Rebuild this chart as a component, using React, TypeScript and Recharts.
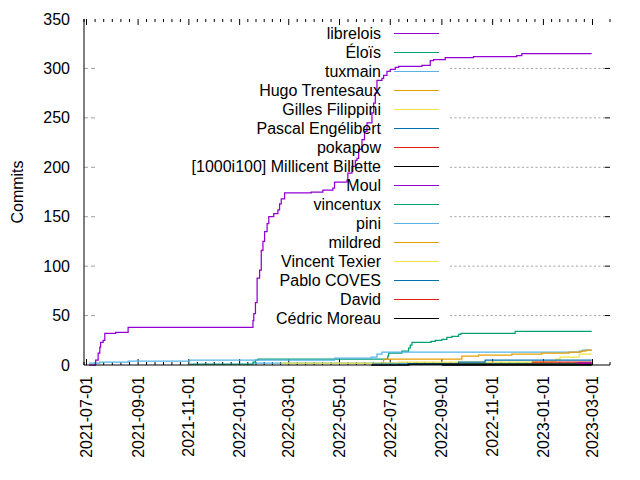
import React from 'react';
import { LineChart, Line, XAxis, YAxis, Legend, Label, CartesianGrid } from 'recharts';

const FONT = '"Liberation Sans", Arial, Helvetica, sans-serif';

// ---------- legend order / colours ----------
const authors = [
  'librelois', 'Éloïs', 'tuxmain', 'Hugo Trentesaux', 'Gilles Filippini', 'Pascal Engélibert',
  'pokapow', '[1000i100] Millicent Billette', 'Moul', 'vincentux', 'pini', 'mildred',
  'Vincent Texier', 'Pablo COVES', 'David', 'Cédric Moreau',
];
const palette = ['#9400d3', '#009e73', '#56b4e9', '#e69f00', '#f0e442', '#0072b2', '#e51e10', '#000000'];

// ---------- axis ticks ----------
const majorTickDates = [
  '2021-07-01', '2021-09-01', '2021-11-01', '2022-01-01', '2022-03-01', '2022-05-01',
  '2022-07-01', '2022-09-01', '2022-11-01', '2023-01-01', '2023-03-01',
];
const yTicks = [0, 50, 100, 150, 200, 250, 300, 350];
const xDomainDates = ['2021-06-28', '2023-03-22'];

// ---------- series (date of step, cumulative commits) ----------
const libreloisDates = [
  '2021-07-04', '2021-07-12', '2021-07-15', '2021-07-17', '2021-07-18', '2021-07-21', '2021-07-23',
  '2021-08-05', '2021-08-20', '2022-01-17', '2022-01-18', '2022-01-20', '2022-01-22', '2022-01-25',
  '2022-01-27', '2022-01-29', '2022-01-31', '2022-02-03', '2022-02-05', '2022-02-11', '2022-02-16',
  '2022-02-18', '2022-02-20', '2022-02-24', '2022-03-28', '2022-04-11', '2022-04-23', '2022-04-25',
  '2022-05-10', '2022-05-11', '2022-05-16', '2022-05-20', '2022-05-22', '2022-05-24', '2022-05-28',
  '2022-05-31', '2022-06-03', '2022-06-09', '2022-06-11', '2022-06-13', '2022-06-15', '2022-06-21',
  '2022-06-23', '2022-06-27', '2022-07-01', '2022-07-07', '2022-07-11', '2022-08-08', '2022-08-18',
  '2022-08-22', '2022-09-05', '2022-10-09', '2022-11-30', '2022-12-06', '2023-02-28',
];
const libreloisCommits = [
  0, 5, 12, 18, 23, 25, 32,
  33, 38, 45, 52, 63, 88, 96,
  116, 125, 135, 143, 150, 153, 157,
  163, 168, 174, 175, 177, 179, 185,
  187, 194, 201, 207, 209, 218, 228,
  236, 245, 255, 265, 275, 288, 290,
  293, 297, 299, 301, 302, 303, 308,
  309, 311, 312, 313, 315, 315,
];

const eloisDates = [
  '2021-11-02', '2022-01-17', '2022-01-20', '2022-01-23', '2022-06-28', '2022-06-29', '2022-07-15',
  '2022-07-23', '2022-07-25', '2022-07-27', '2022-08-19', '2022-08-24', '2022-09-01', '2022-09-07',
  '2022-09-13', '2022-09-21', '2022-09-24', '2022-11-28', '2023-02-28',
];
const eloisCommits = [1, 3, 5, 6, 9, 12, 14, 17, 20, 23, 24, 25, 26, 28, 29, 31, 32, 34, 34];

const tuxmainDates = [
  '2021-07-04', '2021-07-17', '2021-08-20', '2021-11-02', '2022-04-25', '2022-06-08', '2022-06-15',
  '2022-06-21', '2023-02-13', '2023-02-17', '2023-02-28',
];
const tuxmainCommits = [2, 3, 4, 5, 7, 8, 11, 13, 14, 15, 15];

const hugoDates = [
  '2022-06-21', '2022-06-23', '2022-09-25', '2022-10-15', '2022-11-24', '2022-12-30', '2023-02-01',
  '2023-02-15', '2023-02-21', '2023-02-28',
];
const hugoCommits = [2, 6, 9, 10, 11, 12, 13, 14, 15, 15];

const gillesDates = ['2022-02-20', '2022-07-11', '2023-01-11', '2023-01-16', '2023-01-21', '2023-02-13', '2023-02-28'];
const gillesCommits = [2, 3, 4, 6, 8, 11, 11];

const pascalDates = ['2022-06-09', '2022-09-21', '2022-10-23', '2023-02-28'];
const pascalCommits = [1, 3, 5, 5];

const pokapowDates = ['2022-12-18', '2023-02-28'];
const pokapowCommits = [3, 3];

const millicentDates = ['2022-06-08', '2022-07-23', '2023-02-28'];
const millicentCommits = [0, 1, 1];

const moulDates = ['2023-02-11', '2023-02-28'];
const moulCommits = [2, 2];

const vincentuxDates = ['2022-07-23', '2023-02-28'];
const vincentuxCommits = [1, 1];

const piniDates = ['2022-01-17', '2023-02-28'];
const piniCommits = [2, 2];

const mildredDates = ['2022-08-10', '2023-02-28'];
const mildredCommits = [1, 1];

const vincentTexierDates = ['2022-09-15', '2023-02-28'];
const vincentTexierCommits = [1, 1];

const pabloDates = ['2022-07-23', '2023-02-28'];
const pabloCommits = [1, 1];

const davidDates = ['2023-02-11', '2023-02-28'];
const davidCommits = [2, 2];

const cedricDates = ['2022-09-01', '2023-02-28'];
const cedricCommits = [0, 0];

// ---------- build tables ----------
const ts = (d: string) => Date.parse(d);
const zip = (dates: string[], vals: number[]) => dates.map((d, i) => ({ x: ts(d), y: vals[i] }));

const seriesByAuthor: Record<string, { x: number; y: number }[]> = {
  'librelois': zip(libreloisDates, libreloisCommits),
  'Éloïs': zip(eloisDates, eloisCommits),
  'tuxmain': zip(tuxmainDates, tuxmainCommits),
  'Hugo Trentesaux': zip(hugoDates, hugoCommits),
  'Gilles Filippini': zip(gillesDates, gillesCommits),
  'Pascal Engélibert': zip(pascalDates, pascalCommits),
  'pokapow': zip(pokapowDates, pokapowCommits),
  '[1000i100] Millicent Billette': zip(millicentDates, millicentCommits),
  'Moul': zip(moulDates, moulCommits),
  'vincentux': zip(vincentuxDates, vincentuxCommits),
  'pini': zip(piniDates, piniCommits),
  'mildred': zip(mildredDates, mildredCommits),
  'Vincent Texier': zip(vincentTexierDates, vincentTexierCommits),
  'Pablo COVES': zip(pabloDates, pabloCommits),
  'David': zip(davidDates, davidCommits),
  'Cédric Moreau': zip(cedricDates, cedricCommits),
};

// drawing order (bottom first)
const drawOrder = [
  'pini', 'vincentux', 'mildred', 'Vincent Texier', 'Pablo COVES', 'Éloïs', 'tuxmain',
  'Hugo Trentesaux', 'Gilles Filippini', 'Pascal Engélibert', '[1000i100] Millicent Billette',
  'Cédric Moreau', 'pokapow', 'David', 'Moul', 'librelois',
];
const colorOf = (name: string) => palette[authors.indexOf(name) % palette.length];

const majorTs = majorTickDates.map(ts);
const allXTicks: number[] = [];
majorTs.forEach((t, i) => {
  allXTicks.push(t);
  if (i < majorTs.length - 1) {
    const step = (majorTs[i + 1] - t) / 6;
    for (let k = 1; k < 6; k++) allXTicks.push(t + step * k);
  }
});
const xDomain = xDomainDates.map(ts);

// ---------- layout constants ----------
const W = 632;
const H = 472;
const KEY_LEFT = 88;
const KEY_WIDTH = 343;
const KEY_RIGHT = 442;
const GRID = '#a0a0a0';

const BottomTick = (props: any) => {
  const { x, y, payload } = props;
  const major = majorTs.includes(payload.value);
  if (!major) return <g />;
  const ty = y + 11;
  return (
    <text x={x} y={ty} transform={`rotate(-90 ${x} ${ty})`} textAnchor="end"
      dominantBaseline="central" fontFamily={FONT} fontSize={16} fill="#000">
      {new Date(payload.value).toISOString().slice(0, 10)}
    </text>
  );
};

const LeftTick = (props: any) => {
  const { x, y, payload } = props;
  return (
    <text x={x - 14} y={y} textAnchor="end" dominantBaseline="central"
      fontFamily={FONT} fontSize={16} fill="#000">{payload.value}</text>
  );
};

// horizontal grid: only visible outside the key box, plus inward ticks
const HLine = (props: any) => {
  const { x1, x2, y1, y, height } = props;
  const edge = Math.abs(y1 - y) < 0.5 || Math.abs(y1 - (y + height)) < 0.5;
  if (edge) return <g />;
  return (
    <g>
      <line x1={x1} x2={KEY_LEFT} y1={y1} y2={y1} stroke={GRID} strokeDasharray="4 3" />
      <line x1={KEY_RIGHT} x2={x2 - 5} y1={y1} y2={y1} stroke={GRID} strokeDasharray="2 2.5" />
      <line x1={x2 - 5} x2={x2} y1={y1} y2={y1} stroke="#000" />
    </g>
  );
};

// vertical grid used as inward x ticks (bottom and top)
const VLine = (props: any) => {
  const { x1, y1, y2, index } = props;
  const len = index % 6 === 0 ? 6 : 3;
  const top = Math.min(y1, y2);
  const bottom = Math.max(y1, y2);
  return (
    <g>
      <line x1={x1} x2={x1} y1={bottom} y2={bottom - len} stroke="#000" />
      <line x1={x1} x2={x1} y1={top} y2={top + len} stroke="#000" />
    </g>
  );
};

const CommitsLabel = (props: any) => {
  const vb = props.viewBox || { x: 0, y: 11, width: 76, height: 346 };
  const cx = vb.x + 9;
  const cy = vb.y + vb.height / 2;
  return (
    <text x={cx} y={cy} transform={`rotate(-90 ${cx} ${cy})`} textAnchor="middle"
      dominantBaseline="central" fontFamily={FONT} fontSize={16} fill="#000">Commits</text>
  );
};

const KeyContent = () => (
  <div style={{ width: KEY_WIDTH, fontFamily: FONT, fontSize: 16, color: '#000' }}>
    {authors.map((a) => (
      <div key={a} style={{ height: 19, display: 'flex', alignItems: 'center' }}>
        <span style={{ flex: 1, textAlign: 'right', whiteSpace: 'nowrap', lineHeight: '19px' }}>{a}</span>
        <span style={{ width: 13 }} />
        <span style={{ width: 45, height: 0, borderTop: `1.5px solid ${colorOf(a)}` }} />
      </div>
    ))}
  </div>
);

export default function App() {
  return (
    <LineChart width={W} height={H} margin={{ top: 11, right: 30, bottom: 0, left: 0 }}>
      <CartesianGrid horizontal={HLine} vertical={VLine} />
      <XAxis dataKey="x" type="number" domain={xDomain} allowDataOverflow ticks={allXTicks}
        interval={0} tick={<BottomTick />} tickSize={0} tickMargin={0} tickLine={false}
        height={115} axisLine={{ stroke: '#000' }} />
      <XAxis xAxisId="top" orientation="top" dataKey="x" type="number" domain={xDomain}
        allowDataOverflow tick={false} tickLine={false} height={0} axisLine={{ stroke: '#000' }} />
      <YAxis type="number" domain={[0, 350]} ticks={yTicks} interval={0} tick={<LeftTick />}
        tickSize={0} tickMargin={0} tickLine={false} width={76} axisLine={{ stroke: '#000' }}>
        <Label content={<CommitsLabel />} />
      </YAxis>
      <YAxis yAxisId="right" orientation="right" type="number" domain={[0, 350]}
        tick={false} tickLine={false} width={0} axisLine={{ stroke: '#000' }} />
      <Legend layout="vertical" align="center" verticalAlign="middle" content={<KeyContent />}
        wrapperStyle={{ left: KEY_LEFT, top: 16, width: KEY_WIDTH }} />
      {drawOrder.map((name) => (
        <Line key={name} name={name} data={seriesByAuthor[name]} dataKey="y" type="stepAfter"
          stroke={colorOf(name)} strokeWidth={1.25} dot={false} activeDot={false}
          isAnimationActive={false} />
      ))}
    </LineChart>
  );
}
